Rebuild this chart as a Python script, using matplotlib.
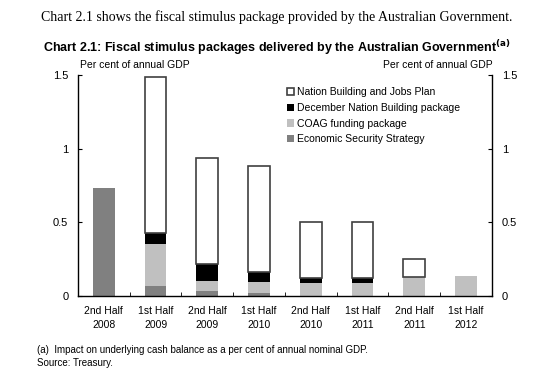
import numpy as np
import matplotlib.pyplot as plt

categories = ['2nd Half\n2008', '1st Half\n2009', '2nd Half\n2009', '1st Half\n2010',
              '2nd Half\n2010', '1st Half\n2011', '2nd Half\n2011', '1st Half\n2012']
# per cent of annual GDP
ess = [0.73, 0.065, 0.035, 0.02, 0.0, 0.0, 0.0, 0.0]
coag = [0.0, 0.29, 0.07, 0.075, 0.085, 0.085, 0.13, 0.135]
dec_nb = [0.0, 0.075, 0.11, 0.07, 0.035, 0.035, 0.0, 0.0]
nbjp = [0.0, 1.055, 0.72, 0.72, 0.385, 0.385, 0.12, 0.0]

plt.rcParams['font.family'] = ['Liberation Sans', 'DejaVu Sans']

fig = plt.figure(figsize=(5.54, 3.73), dpi=100)
ax = fig.add_axes([0.1408, 0.2064, 0.7472, 0.5925])

x = np.arange(len(categories))
w = 0.42
ess = np.array(ess); coag = np.array(coag); dec_nb = np.array(dec_nb); nbjp = np.array(nbjp)
ax.bar(x, ess, w, color='#808080', label='Economic Security Strategy')
ax.bar(x, coag, w, bottom=ess, color='#c0c0c0', label='COAG funding package')
ax.bar(x, dec_nb, w, bottom=ess + coag, color='black', label='December Nation Building package')
mask = nbjp > 0
ax.bar(x[mask], nbjp[mask], w, bottom=(ess + coag + dec_nb)[mask], color='white',
       edgecolor='#404040', linewidth=1.2, label='Nation Building and Jobs Plan')

ax.set_xlim(-0.5, len(categories) - 0.5)
ax.set_ylim(0, 1.5)
ax.set_yticks([0, 0.5, 1, 1.5])
ax.set_yticklabels(['0', '0.5', '1', '1.5'])
ax.tick_params(axis='y', direction='in', length=3, labelsize=8, pad=7,
               right=True, labelright=True)
ax.set_xticks(x)
ax.set_xticklabels(categories, fontsize=7.5, linespacing=1.5)
ax.set_xticks(np.arange(0.5, len(categories) - 1, 1), minor=True)
ax.tick_params(axis='x', which='major', length=0, pad=7)
ax.tick_params(axis='x', which='minor', direction='in', length=3)
ax.spines['top'].set_visible(False)
for s in ['left', 'right', 'bottom']:
    ax.spines[s].set_color('black')
    ax.spines[s].set_linewidth(1.0)

h, l = ax.get_legend_handles_labels()
ax.legend(h[::-1], l[::-1], loc='upper left', bbox_to_anchor=(0.518, 0.766),
          bbox_transform=fig.transFigure, frameon=False, fontsize=7.5,
          handlelength=0.7, handleheight=0.7, handletextpad=0.3, labelspacing=0.55,
          borderpad=0, borderaxespad=0)

fig.text(0.5, 0.955, 'Chart 2.1 shows the fiscal stimulus package provided by the Australian Government.',
         ha='center', va='center', fontsize=10, family='Liberation Serif')
fig.text(0.5, 0.873, r'Chart 2.1: Fiscal stimulus packages delivered by the Australian Government$^{\mathbf{(a)}}$',
         ha='center', va='center', fontsize=9, weight='bold')
fig.text(0.145, 0.826, 'Per cent of annual GDP', ha='left', va='center', fontsize=7.5)
fig.text(0.89, 0.826, 'Per cent of annual GDP', ha='right', va='center', fontsize=7.5)
fig.text(0.067, 0.044, '(a)  Impact on underlying cash balance as a per cent of annual nominal GDP.\nSource: Treasury.',
         ha='left', va='center', fontsize=7, linespacing=1.3)

fig.savefig('out.png', dpi=100)
